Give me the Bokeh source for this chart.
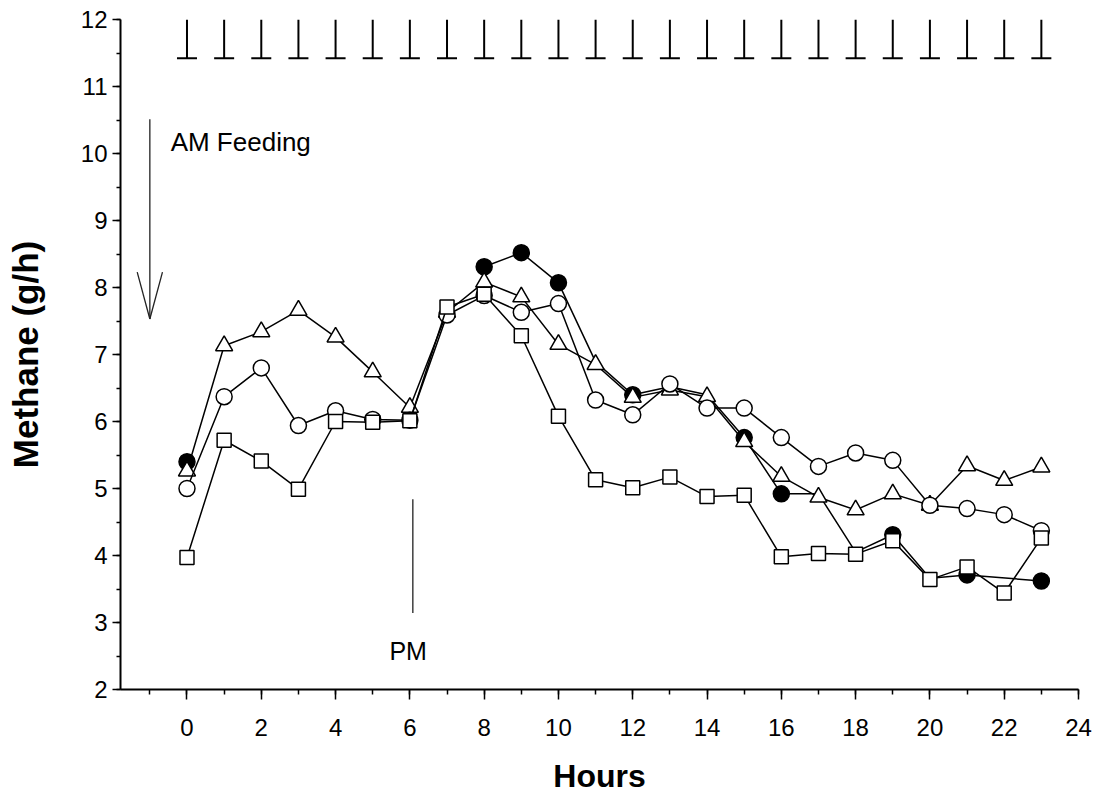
from bokeh.plotting import figure
from bokeh.models import SingleIntervalTicker, Range1d, Label
from bokeh.embed import file_html
from bokeh.resources import INLINE

# ---- data ----
hours = list(range(24))
# solid-circle series (None = no reading)
filled = [5.40, None, None, None, None, None, None, None, 8.31, 8.52, 8.07, 6.89,
          6.40, 6.52, 6.40, 5.76, 4.92, 4.92, 4.05, 4.31, 3.66, 3.71, None, 3.62]
# hours at which the solid symbol is not hidden under another symbol
filled_symbol_hours = [0, 8, 9, 10, 12, 15, 16, 19, 21, 23]
circle = [5.00, 6.37, 6.80, 5.94, 6.16, 6.03, 6.02, 7.59, 7.88, 7.63, 7.76, 6.32,
          6.10, 6.56, 6.20, 6.20, 5.76, 5.33, 5.53, 5.42, 4.75, 4.70, 4.61, 4.37]
triangle = [5.26, 7.13, 7.34, 7.66, 7.26, 6.74, 6.21, 7.63, 8.08, 7.86, 7.15, 6.85,
            6.36, 6.47, 6.37, 5.70, 5.18, 4.87, 4.68, 4.92, 4.75, 5.34, 5.12, 5.32]
square = [3.97, 5.72, 5.41, 4.99, 6.00, 5.99, 6.01, 7.71, 7.90, 7.28, 6.08, 5.13,
          5.01, 5.17, 4.88, 4.90, 3.98, 4.03, 4.02, 4.22, 3.64, 3.83, 3.44, 4.26]
cap_hours = list(range(24))
cap_low = [11.42] * 24
cap_high = [12.0] * 24

# annotation anchors (data units)
am_x, am_top, am_tip, am_head = -1.0, 10.51, 7.53, 8.23
am_head_dx = 0.34
pm_x, pm_top, pm_bottom = 6.08, 4.84, 3.14

FONT = "Liberation Sans"

p = figure(width=1096, height=800, output_backend="svg", toolbar_location=None,
           x_range=Range1d(-1.79, 24), y_range=Range1d(2, 12),
           min_border_left=120, min_border_right=18, min_border_top=19,
           min_border_bottom=111)
p.outline_line_color = None
p.grid.visible = False
p.background_fill_color = "white"

# axes
p.xaxis.ticker = SingleIntervalTicker(interval=2, num_minor_ticks=2)
p.yaxis.ticker = SingleIntervalTicker(interval=1, num_minor_ticks=2)
for ax in (p.xaxis[0], p.yaxis[0]):
    ax.axis_line_width = 2
    ax.axis_line_color = "black"
    ax.major_tick_line_width = 1.5
    ax.minor_tick_line_width = 1.5
    ax.major_tick_line_color = "black"
    ax.minor_tick_line_color = "black"
    ax.major_tick_in = 0
    ax.minor_tick_in = 0
    ax.major_label_text_font = FONT
    ax.major_label_text_font_size = "24px"
    ax.major_label_text_color = "black"
    ax.axis_label_text_font = FONT
    ax.axis_label_text_font_style = "bold"
    ax.axis_label_text_color = "black"
p.xaxis.major_tick_out = 10
p.xaxis.minor_tick_out = 5
p.xaxis.major_label_standoff = 19
p.xaxis.axis_label = "Hours"
p.xaxis.axis_label_text_font_size = "32px"
p.xaxis.axis_label_standoff = 19
p.yaxis.major_tick_out = 8
p.yaxis.minor_tick_out = 4
p.yaxis.major_label_standoff = 5
p.yaxis.axis_label = "Methane (g/h)"
p.yaxis.axis_label_text_font_size = "35px"
p.yaxis.axis_label_standoff = 33

# top caps
p.segment(x0=cap_hours, y0=cap_low, x1=cap_hours, y1=cap_high, line_color="black", line_width=2)
p.dash(x=cap_hours, y=cap_low, size=20, line_color="black", line_width=2)

# AM feeding arrow
p.segment(x0=[am_x], y0=[am_top], x1=[am_x], y1=[am_tip], line_color="#222222", line_width=1.3)
p.segment(x0=[am_x - am_head_dx, am_x + am_head_dx], y0=[am_head, am_head],
          x1=[am_x, am_x], y1=[am_tip, am_tip], line_color="#222222", line_width=1.3)
# PM mark
p.segment(x0=[pm_x], y0=[pm_top], x1=[pm_x], y1=[pm_bottom], line_color="#222222", line_width=1.3)

p.add_layout(Label(x=-0.44, y=10.17, text="AM Feeding", text_font=FONT, text_font_size="26px",
                   text_baseline="alphabetic", text_color="black"))
p.add_layout(Label(x=5.45, y=2.58, text="PM", text_font=FONT, text_font_size="25px",
                   text_baseline="alphabetic", text_color="black"))

# solid series: line through all readings, broken where readings are missing for long
fx, fy = [], []
prev = None
for h, v in zip(hours, filled):
    if v is None:
        continue
    if prev is not None and h - prev > 2:
        fx.append(float("nan"))
        fy.append(float("nan"))
    fx.append(h)
    fy.append(v)
    prev = h
p.line(fx, fy, line_color="black", line_width=1.5)
sx = [h for h in filled_symbol_hours]
sy = [filled[h] for h in filled_symbol_hours]
p.scatter(sx, sy, marker="circle", size=16, fill_color="black", line_color="black", line_width=1.5)

p.line(hours, triangle, line_color="black", line_width=1.5)
p.scatter(hours, triangle, marker="triangle", size=17, fill_color="white", line_color="black", line_width=1.5)

p.line(hours, circle, line_color="black", line_width=1.5)
p.scatter(hours, circle, marker="circle", size=16, fill_color="white", line_color="black", line_width=1.5)

p.line(hours, square, line_color="black", line_width=1.5)
p.scatter(hours, square, marker="square", size=14, fill_color="white", line_color="black", line_width=1.5)

open("out.html", "w").write(file_html(p, INLINE))
